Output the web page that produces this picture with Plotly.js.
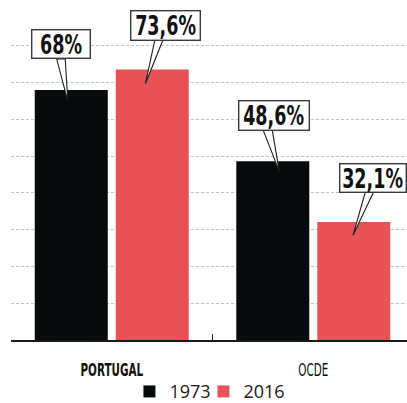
<!DOCTYPE html>
<html>
<head>
<meta charset="utf-8">
<script src="https://cdn.plot.ly/plotly-3.0.1.min.js"></script>
<style>html,body{margin:0;padding:0;background:#fff;}#chart{width:407px;height:403px;}</style>
</head>
<body>
<div id="chart"></div>
<script>
// ---- data ----
const categories = ["PORTUGAL", "OCDE"];
const categoryLabels = ["<b>PORTUGAL</b>", "OCDE"];
const seriesNames = ["1973", "2016"];
const values1973 = [68, 48.6];
const values2016 = [73.6, 32.1];
const labels1973 = ["68%", "48,6%"];
const labels2016 = ["73,6%", "32,1%"];
const gridValues = [10, 20, 30, 40, 50, 60, 70, 80];

// ---- style ----
const colors = ["#070b0b", "#e85256"];
const bargap = 0.196;
const barOffset = (1 - bargap) / 4; // centre of each bar within its group
const labelFont = "DejaVu Sans Condensed, DejaVu Sans, sans-serif";

// callout placement (pixel offsets from the top centre of each bar)
const calloutStyle = [
  [ // 1973
    {box: [-10, 46, 57, 27], tail: [[-14.5, 31], [-6, 31], [-3.5, -11]]},
    {box: [1, 46, 69, 28],  tail: [[-9.5, 31], [-0.5, 31], [6.5, -10]]}
  ],
  [ // 2016
    {box: [13, 44, 68, 28], tail: [[2.5, 29], [10.5, 29], [-6.8, -14]]},
    {box: [19, 44, 65, 27], tail: [[11.5, 30], [19.8, 30], [-0.8, -13.3]]}
  ]
];

const seriesValues = [values1973, values2016];
const seriesLabels = [labels1973, labels2016];

const traces = seriesNames.map((name, s) => ({
  type: "bar",
  name: name,
  x: categories,
  y: seriesValues[s],
  marker: {color: colors[s], line: {width: 0}},
  hoverinfo: "none"
}));

const annotations = [];
const shapes = [];
seriesValues.forEach((vals, s) => {
  vals.forEach((v, c) => {
    const st = calloutStyle[s][c];
    const xa = c + (s === 0 ? -barOffset : barOffset);
    const p = st.tail;
    shapes.push({
      type: "path", xref: "x", yref: "y",
      xsizemode: "pixel", ysizemode: "pixel",
      xanchor: xa, yanchor: v,
      path: `M${p[0][0]},${p[0][1]} L${p[1][0]},${p[1][1]} L${p[2][0]},${p[2][1]} Z`,
      fillcolor: "#ffffff",
      line: {color: "#1e1e1e", width: 1.1},
      layer: "above"
    });
    // the white box
    annotations.push({
      x: xa, y: v, xref: "x", yref: "y",
      xshift: st.box[0], yshift: st.box[1],
      xanchor: "center", yanchor: "middle",
      showarrow: false, text: " ",
      font: {size: 4},
      width: st.box[2], height: st.box[3],
      bgcolor: "#ffffff", bordercolor: "#3a3a3a", borderwidth: 1.4, borderpad: 0
    });
    // the value text
    annotations.push({
      x: xa, y: v, xref: "x", yref: "y",
      xshift: st.box[0], yshift: st.box[1] - 1,
      xanchor: "center", yanchor: "middle",
      showarrow: false,
      text: "<b>" + seriesLabels[s][c] + "</b>",
      font: {family: labelFont, size: 26, color: "#111"},
      bgcolor: "rgba(0,0,0,0)", borderwidth: 0, borderpad: 0
    });
  });
});

const layout = {
  width: 407, height: 403,
  margin: {l: 11, r: 0, t: 0, b: 63, autoexpand: false},
  paper_bgcolor: "#fff", plot_bgcolor: "#fff",
  barmode: "group",
  bargap: bargap,
  bargroupgap: 0.099,
  showlegend: true,
  legend: {
    orientation: "h", xref: "container", yref: "container",
    x: 0.318, xanchor: "left", y: 0.028, yanchor: "middle",
    entrywidth: 29,
    font: {family: "Open Sans, Roboto, sans-serif", size: 18, color: "#1a1a1a"},
    traceorder: "normal", bgcolor: "rgba(0,0,0,0)"
  },
  xaxis: {
    type: "category",
    range: [-0.5, 1.465],
    tickmode: "array", tickvals: categories, ticktext: categoryLabels,
    tickson: "boundaries", ticks: "inside", ticklen: 6, tickwidth: 1, tickcolor: "#222",
    ticklabelstandoff: 14,
    tickfont: {family: labelFont, size: 17, color: "#111"},
    showline: true, linecolor: "#1a1a1a", linewidth: 1.6,
    showgrid: false, zeroline: false, fixedrange: true
  },
  yaxis: {
    range: [0, 92.5],
    tickmode: "array", tickvals: gridValues,
    showticklabels: false, ticks: "",
    showgrid: true, gridcolor: "#c4c4c4", gridwidth: 1, griddash: "3px,2px",
    zeroline: false, showline: false, fixedrange: true
  },
  annotations: annotations,
  shapes: shapes
};

// narrow the bold condensed label faces horizontally (text stays real text)
function condense(selector, s) {
  document.querySelectorAll(selector).forEach(t => {
    const b = t.getBBox();
    const cx = b.x + b.width / 2;
    const prev = t.getAttribute("transform") || "";
    t.setAttribute("transform", `${prev} translate(${cx},0) scale(${s},1) translate(${-cx},0)`);
  });
}

Plotly.newPlot("chart", traces, layout, {displayModeBar: false, staticPlot: true}).then(() => {
  condense("#chart .annotation-text", 0.75);
  condense("#chart .xtick text", 0.68);
  // compact legend entries: let the last entry's text run past the entry width
  document.querySelectorAll("#chart .legend [clip-path]").forEach(e => e.removeAttribute("clip-path"));
});
</script>
</body>
</html>
